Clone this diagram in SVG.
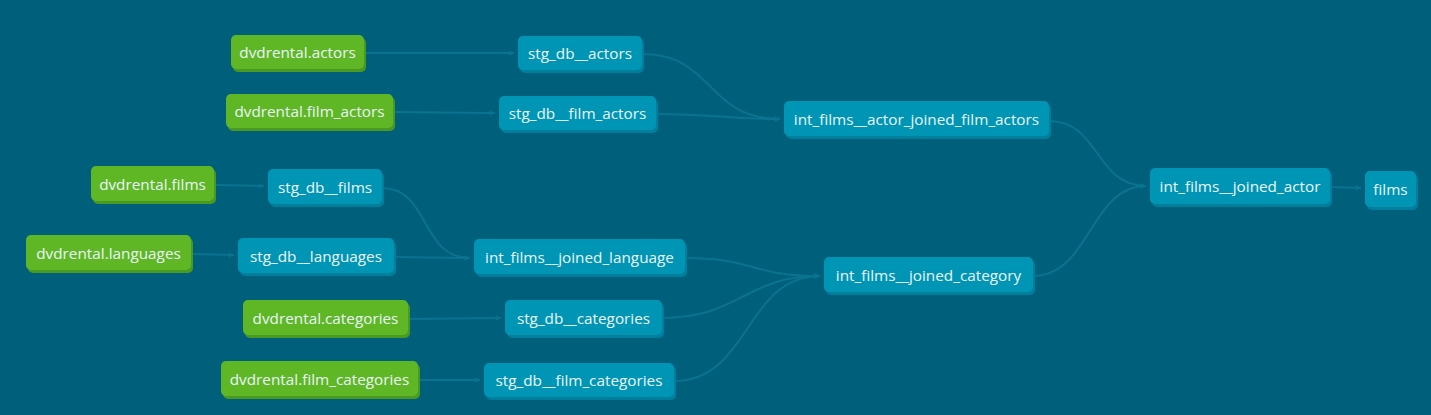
<svg xmlns="http://www.w3.org/2000/svg" width="1431" height="415" viewBox="0 0 1431 415">
<style>
.bg{fill:#005f7b}
.edge{fill:none;stroke:#0a7390;stroke-width:2}
.src .box{fill:#5fb726}
.src .sh{fill:#4a9a22}
.mdl .box{fill:#0095b4}
.mdl .sh{fill:#007f9c}
text{font-family:"Open Sans","Noto Sans","Liberation Sans",sans-serif;font-size:15.3px;fill:#eaf5f8;text-anchor:middle;dominant-baseline:central}
</style>
<defs>
<marker id="arr" viewBox="0 0 10 10" refX="9" refY="5" markerWidth="7" markerHeight="7" markerUnits="userSpaceOnUse" orient="auto">
<path d="M0,1 L10,5 L0,9 L3,5 Z" fill="#0a7390"/>
</marker>
</defs>
<rect class="bg" x="0" y="0" width="1431" height="415"/>
<g id="connectors">
<path class="edge" marker-end="url(#arr)" d="M364,53 L514,53"/>
<path class="edge" marker-end="url(#arr)" d="M393,112 L495,113"/>
<path class="edge" marker-end="url(#arr)" d="M214,185 L264,186"/>
<path class="edge" marker-end="url(#arr)" d="M191,254 L234,255"/>
<path class="edge" marker-end="url(#arr)" d="M408,319 L501,318"/>
<path class="edge" marker-end="url(#arr)" d="M418,380 L480,380"/>
<path class="edge" marker-end="url(#arr)" d="M642,54 C715,54 705,119 780,119"/>
<path class="edge" marker-end="url(#arr)" d="M656,114 C720,114 720,119 780,119"/>
<path class="edge" marker-end="url(#arr)" d="M382,188 C430,188 420,258 470,258"/>
<path class="edge" marker-end="url(#arr)" d="M394,257 L470,258"/>
<path class="edge" marker-end="url(#arr)" d="M685,258 C755,258 750,276 820,276"/>
<path class="edge" marker-end="url(#arr)" d="M662,318 C740,318 745,276 820,276"/>
<path class="edge" marker-end="url(#arr)" d="M674,381 C750,381 745,276 820,276"/>
<path class="edge" marker-end="url(#arr)" d="M1049,121 C1100,121 1095,186 1146,186"/>
<path class="edge" marker-end="url(#arr)" d="M1033,276 C1090,276 1090,186 1146,186"/>
<path class="edge" marker-end="url(#arr)" d="M1330,187 L1361,188"/>
</g>
<g id="n-dvdrental-actors" class="src"><rect class="sh" x="233" y="38" width="133" height="34" rx="5"/><rect class="box" x="231" y="35" width="133" height="34" rx="5"/><text x="297.5" y="52">dvdrental.actors</text></g>
<g id="n-dvdrental-film_actors" class="src"><rect class="sh" x="228" y="97" width="167" height="34" rx="5"/><rect class="box" x="226" y="94" width="167" height="34" rx="5"/><text x="309.5" y="111">dvdrental.film_actors</text></g>
<g id="n-dvdrental-films" class="src"><rect class="sh" x="93" y="169" width="123" height="35" rx="5"/><rect class="box" x="91" y="166" width="123" height="35" rx="5"/><text x="152.5" y="183.5">dvdrental.films</text></g>
<g id="n-dvdrental-languages" class="src"><rect class="sh" x="28" y="238" width="165" height="35" rx="5"/><rect class="box" x="26" y="235" width="165" height="35" rx="5"/><text x="108.5" y="252.5">dvdrental.languages</text></g>
<g id="n-dvdrental-categories" class="src"><rect class="sh" x="245" y="303" width="165" height="35" rx="5"/><rect class="box" x="243" y="300" width="165" height="35" rx="5"/><text x="325.5" y="317.5">dvdrental.categories</text></g>
<g id="n-dvdrental-film_categories" class="src"><rect class="sh" x="223" y="364" width="197" height="35" rx="5"/><rect class="box" x="221" y="361" width="197" height="35" rx="5"/><text x="319.5" y="378.5">dvdrental.film_categories</text></g>
<g id="n-stg_db__actors" class="mdl"><rect class="sh" x="520" y="39" width="124" height="34" rx="5"/><rect class="box" x="518" y="36" width="124" height="34" rx="5"/><text x="580" y="53">stg_db__actors</text></g>
<g id="n-stg_db__film_actors" class="mdl"><rect class="sh" x="501" y="99" width="157" height="34" rx="5"/><rect class="box" x="499" y="96" width="157" height="34" rx="5"/><text x="577.5" y="113">stg_db__film_actors</text></g>
<g id="n-stg_db__films" class="mdl"><rect class="sh" x="270" y="172" width="114" height="35" rx="5"/><rect class="box" x="268" y="169" width="114" height="35" rx="5"/><text x="325" y="186.5">stg_db__films</text></g>
<g id="n-stg_db__languages" class="mdl"><rect class="sh" x="240" y="241" width="156" height="35" rx="5"/><rect class="box" x="238" y="238" width="156" height="35" rx="5"/><text x="316" y="255.5">stg_db__languages</text></g>
<g id="n-stg_db__categories" class="mdl"><rect class="sh" x="507" y="303" width="157" height="35" rx="5"/><rect class="box" x="505" y="300" width="157" height="35" rx="5"/><text x="583.5" y="317.5">stg_db__categories</text></g>
<g id="n-stg_db__film_categories" class="mdl"><rect class="sh" x="486" y="366" width="190" height="34" rx="5"/><rect class="box" x="484" y="363" width="190" height="34" rx="5"/><text x="579" y="380">stg_db__film_categories</text></g>
<g id="n-int_films__actor_joined_film_actors" class="mdl"><rect class="sh" x="786" y="104" width="265" height="35" rx="5"/><rect class="box" x="784" y="101" width="265" height="35" rx="5"/><text x="916.5" y="118.5">int_films__actor_joined_film_actors</text></g>
<g id="n-int_films__joined_language" class="mdl"><rect class="sh" x="476" y="242" width="211" height="35" rx="5"/><rect class="box" x="474" y="239" width="211" height="35" rx="5"/><text x="579.5" y="256.5">int_films__joined_language</text></g>
<g id="n-int_films__joined_category" class="mdl"><rect class="sh" x="826" y="260" width="209" height="35" rx="5"/><rect class="box" x="824" y="257" width="209" height="35" rx="5"/><text x="928.5" y="274.5">int_films__joined_category</text></g>
<g id="n-int_films__joined_actor" class="mdl"><rect class="sh" x="1152" y="171" width="180" height="36" rx="5"/><rect class="box" x="1150" y="168" width="180" height="36" rx="5"/><text x="1240" y="186">int_films__joined_actor</text></g>
<g id="n-films" class="mdl"><rect class="sh" x="1367" y="174" width="51" height="36" rx="5"/><rect class="box" x="1365" y="171" width="51" height="36" rx="5"/><text x="1390.5" y="189">films</text></g>
</svg>
